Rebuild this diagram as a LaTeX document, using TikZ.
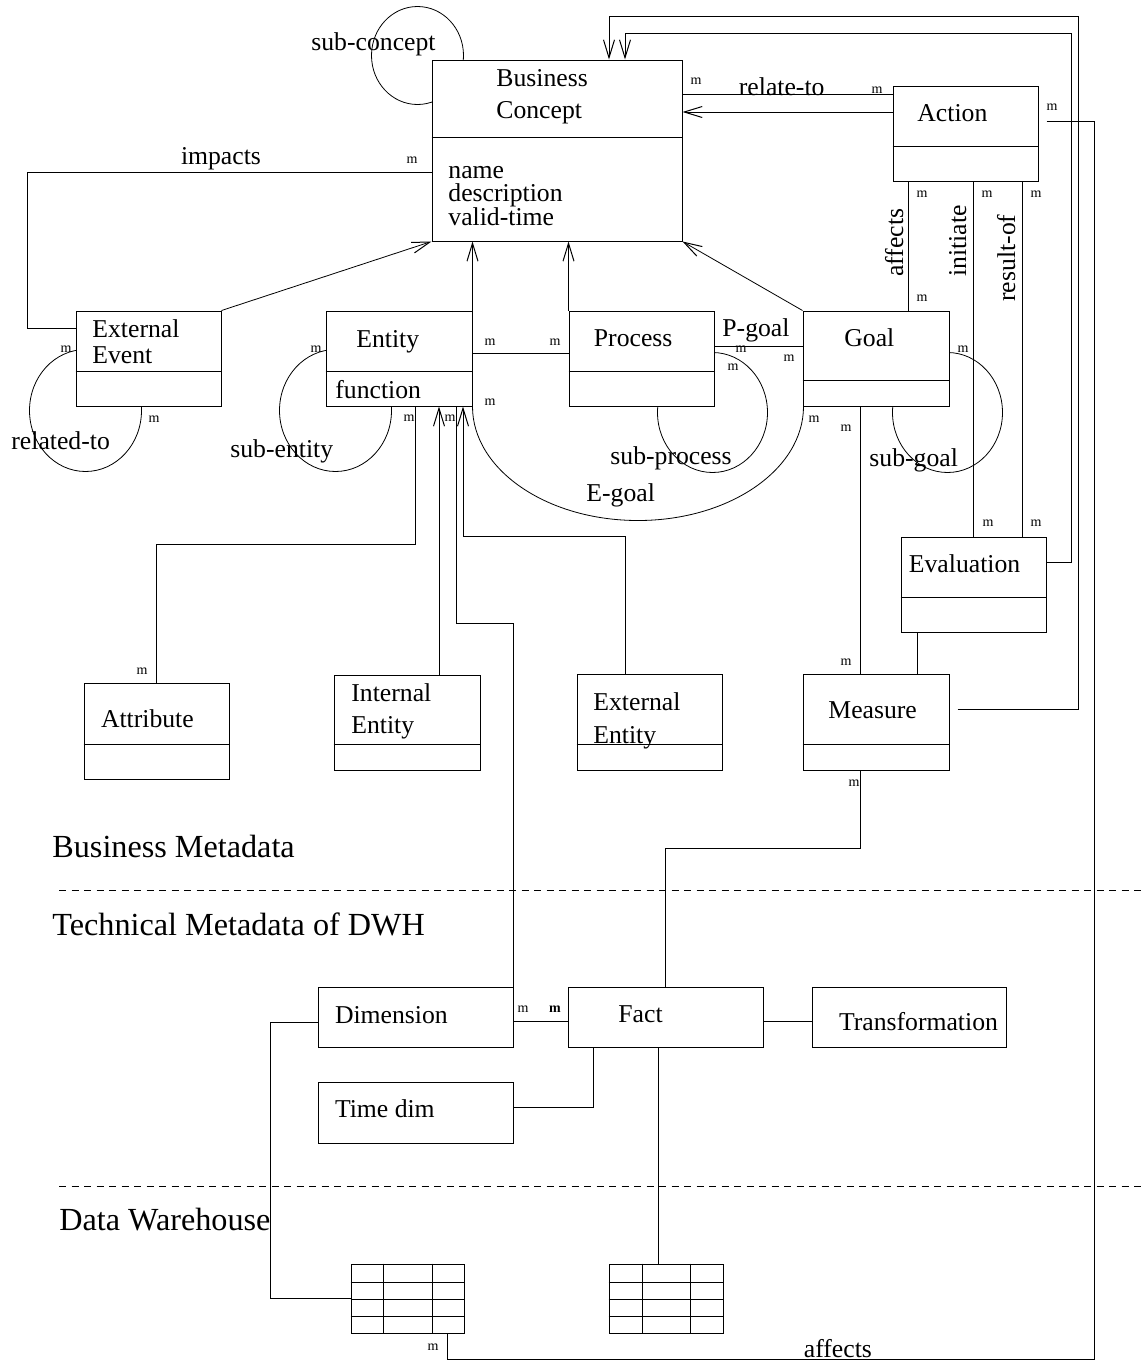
\documentclass[tikz,border=0pt]{standalone}
\usepackage{fontspec}
\setmainfont{Liberation Serif}
\usetikzlibrary{fit,arrows.meta}
\pgfdeclarelayer{background}
\pgfsetlayers{background,main}
\newcommand\divline[2]{\draw (#1.west |- 0,#2) -- (#1.east |- 0,#2);}
\begin{document}
\begin{tikzpicture}[x=0.5pt,y=-0.5pt, line width=0.5pt,
  box/.style={draw, fill=white, inner sep=0pt},
  txt/.style={inner sep=0pt, anchor=base west, font=\fontsize{12.85}{14}\selectfont},
  mm/.style={inner sep=0pt, font=\fontsize{7}{8}\selectfont},
  sect/.style={inner sep=0pt, anchor=base west, font=\fontsize{16.1}{18}\selectfont},
  arr/.style={-{Straight Barb[length=9pt,width=5.5pt,line width=0.5pt]}},
  dashsep/.style={dash pattern=on 3.5pt off 2.75pt}
  ]
\useasboundingbox (0,0) rectangle (1143,1361);

% ---------- boxes ----------
\node[box, fit={(432,60) (682,241)}] (bc) {};
\divline{bc}{137}
\node[box, fit={(893,86) (1038,181)}] (act) {};
\divline{act}{146}
\node[box, fit={(76,311) (221,406)}] (ee) {};
\divline{ee}{371}
\node[box, fit={(326,311) (472,406)}] (ent) {};
\divline{ent}{371}
\node[box, fit={(569,311) (714,406)}] (proc) {};
\divline{proc}{371}
\node[box, fit={(803,311) (949,406)}] (goal) {};
\divline{goal}{380}
\node[box, fit={(901,537) (1046,632)}] (eval) {};
\divline{eval}{597}
\node[box, fit={(84,683) (229,779)}] (attr) {};
\divline{attr}{744}
\node[box, fit={(334,675) (480,770)}] (ie) {};
\divline{ie}{744}
\node[box, fit={(577,674) (722,770)}] (xe) {};
\divline{xe}{744}
\node[box, fit={(803,674) (949,770)}] (meas) {};
\divline{meas}{744}
\node[box, fit={(318,987) (513,1047)}] (dim) {};
\node[box, fit={(568,987) (763,1047)}] (fact) {};
\node[box, fit={(812,987) (1006,1047)}] (trans) {};
\node[box, fit={(318,1082) (513,1143)}] (tdim) {};
\node[box, fit={(351,1264) (464,1333)}] (tab1) {};
\node[box, fit={(609,1264) (723,1333)}] (tab2) {};
\foreach \r in {1282,1299,1316} {
  \draw (tab1.west |- 0,\r) -- (tab1.east |- 0,\r);
  \draw (tab2.west |- 0,\r) -- (tab2.east |- 0,\r);
}
\foreach \c in {383,432} \draw (\c,0 |- tab1.north) -- (\c,0 |- tab1.south);
\foreach \c in {642,690} \draw (\c,0 |- tab2.north) -- (\c,0 |- tab2.south);

% ---------- self loops (behind boxes) ----------
\begin{pgfonlayer}{background}
\draw ([shift={(-14,-4)}]bc.north west) ellipse [x radius=23pt, y radius=24.5pt];
\draw ([shift={(10,4)}]ee.south west) ellipse [x radius=28pt, y radius=30.5pt];
\draw ([shift={(10,4)}]ent.south west) ellipse [x radius=28pt, y radius=30.5pt];
\draw ([shift={(-2,6)}]proc.south east) ellipse [x radius=27.5pt, y radius=30pt];
\draw ([shift={(-2,6)}]goal.south east) ellipse [x radius=27.5pt, y radius=30pt];
\end{pgfonlayer}

% ---------- box texts ----------
\node[txt] (tbc1) at (496,86) {Business};
\node[txt] (tbc2) at (496,118) {Concept};
\node[txt] (tbc3) at (448,178) {name};
\node[txt] (tbc4) at (448,201) {description};
\node[txt] (tbc5) at (448,225) {valid-time};
\node[txt] (tact) at (917,121) {Action};
\node[txt] (tee1) at (92,337) {External};
\node[txt] (tee2) at (92,363) {Event};
\node[txt] (tent1) at (356,347) {Entity};
\node[txt] (tent2) at (335,398) {function};
\node[txt] (tproc) at (593.5,346) {Process};
\node[txt] (tgoal) at (844,346) {Goal};
\node[txt] (teval) at (908.5,572) {Evaluation};
\node[txt] (tattr) at (100.6,727) {Attribute};
\node[txt] (tie1) at (351,701) {Internal};
\node[txt] (tie2) at (351,733) {Entity};
\node[txt] (txe1) at (593,710) {External};
\node[txt] (txe2) at (593,743) {Entity};
\node[txt] (tmeas) at (828,718) {Measure};
\node[txt] (tdimt) at (334.6,1023) {Dimension};
\node[txt] (tfact) at (618,1022) {Fact};
\node[txt] (ttrans) at (838.6,1030) {Transformation};
\node[txt] (ttdim) at (334.6,1117) {Time dim};

% ---------- sections ----------
\node[sect] (s1) at (52,857) {Business Metadata};
\node[sect] (s2) at (52,935) {Technical Metadata of DWH};
\node[sect] (s3) at (59,1230) {Data Warehouse};
\coordinate (d1a) at (59,890);
\coordinate (d1b) at (1143,890);
\coordinate (d2a) at (59,1186);
\coordinate (d2b) at (1143,1186);
\draw[dashsep] (d1a) -- (d1b);
\draw[dashsep] (d2a) -- (d2b);

% ---------- connectors ----------
\draw[arr] (ee.north east) -- (bc.south west);
\draw[arr] (ent.north east) -- (bc.south -| ent.north east);
\draw[arr] (proc.north west) -- (bc.south -| proc.north west);
\draw[arr] (goal.north west) -- (bc.south east);
\draw (bc.west |- 0,172) -| (27.5,328) -- (ee.west |- 0,328);
\draw (act.west |- 0,94) -- (bc.east |- 0,94);
\draw[arr] (act.west |- 0,112) -- (bc.east |- 0,112);
\draw[arr, shorten <=4pt] (meas.east |- 0,709) -- (1078,709) -- (1078,16) -- (609,16) -- (609,0 |- bc.north);
\draw[arr] (eval.east |- 0,562) -- (1071,562) -- (1071,33) -- (625,33) -- (625,0 |- bc.north);
\draw[shorten <=4pt] (act.east |- 0,121) -| (1094.6,1359) -| (447,0 |- tab1.south);
\draw (908,0 |- act.south) -- (908,0 |- goal.north);
\draw (973,0 |- act.south) -- (973,0 |- eval.north);
\draw (1022,0 |- act.south) -- (1022,0 |- eval.north);
\draw (ent.east |- 0,353) -- (proc.west |- 0,353);
\draw (proc.east |- 0,346) -- (goal.west |- 0,346);
\draw (ent.south east) arc[start angle=180, end angle=360, x radius=82.75pt, y radius=57pt];
\draw (860,0 |- goal.south) -- (860,0 |- meas.north);
\draw (917,0 |- eval.south) -- (917,0 |- meas.north);
\draw (415.6,0 |- ent.south) |- (156.5,544) -- (156.5,0 |- attr.north);
\draw[arr] (439,0 |- ie.north) -- (439,0 |- ent.south);
\draw[arr] (625,0 |- xe.north) |- (463,536) -- (463,0 |- ent.south);
\draw (dim.north east) |- (456,623) -- (456,0 |- ent.south);
\draw (860,0 |- meas.south) |- (665,848) -- (665,0 |- fact.north);
\draw (dim.east |- 0,1021) -- (fact.west |- 0,1021);
\draw (fact.east |- 0,1021) -- (trans.west |- 0,1021);
\draw (tdim.east |- 0,1107) -| (593,0 |- fact.south);
\draw (658,0 |- fact.south) -- (658,0 |- tab2.north);
\draw (dim.west |- 0,1022) -| (270,1298) -- (tab1.west |- 0,1298);

% ---------- labels ----------
\node[txt] (lsc) at (311,50) {sub-concept};
\node[txt] (limp) at (180.6,164) {impacts};
\node[txt] (lrel) at (738.5,95) {relate-to};
\node[txt] (lpg) at (722,336) {P-goal};
\node[txt] (lsp) at (610,464) {sub-process};
\node[txt] (leg) at (586,501) {E-goal};
\node[txt] (lsg) at (869,466) {sub-goal};
\node[txt] (lrt) at (11,449) {related-to};
\node[txt] (lse) at (230,457) {sub-entity};
\node[txt] (laf2) at (803.5,1357) {affects};
\node[txt, rotate=90] (laf) at (903,277) {affects};
\node[txt, rotate=90] (lin) at (966,277) {initiate};
\node[txt, rotate=90] (lro) at (1015,302) {result-of};

% ---------- multiplicities ----------
\foreach \p [count=\i] in {(696,81),(877,90),(1052,107),(922,194),(987,194),(1036,194),
  (922,298),(412,160),(66,349),(154,419),(316,349),(409,418),(490,342),(555,342),
  (490,402),(450,418),(741,349),(789,358),(733,367),(814,419),(846,428),(963,349),
  (988,523),(1036,523),(142,671),(846,662),(854,783),(523,1009),(433,1347)}
  \node[mm] (m\i) at \p {m};
\node[mm] (mbold) at (555,1009) {\textbf{m}};
\end{tikzpicture}
\end{document}
